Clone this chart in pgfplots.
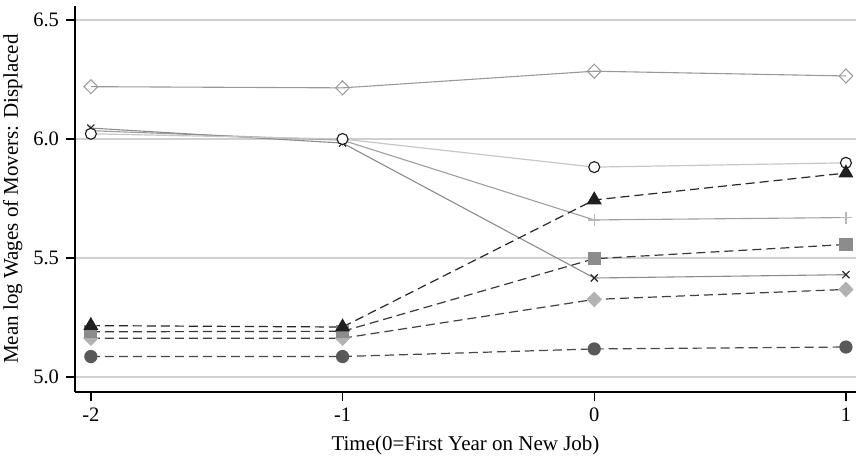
\documentclass[border=0pt]{standalone}
\usepackage{fontspec}
\setmainfont{Liberation Serif}
\usepackage{pgfplots}
\pgfplotsset{compat=1.18}
\definecolor{gridgray}{HTML}{D0D0D0}
\begin{document}
\fontsize{20.5}{24}\selectfont
\begin{tikzpicture}
\begin{axis}[
  scale only axis, width=781pt, height=386pt,
  xmin=-2.063, xmax=1.04, ymin=4.937, ymax=6.559,
  axis x line*=bottom, axis y line*=left,
  axis line style={line width=1.6pt, black, -},
  xtick={-2,-1,0,1}, ytick={5,5.5,6,6.5},
  yticklabels={5.0,5.5,6.0,6.5},
  xticklabels={-2,-1,0,1},
  tick align=outside, major tick length=9pt,
  tick style={line width=1.4pt, black},
  xmajorgrids=false, ymajorgrids=true,
  grid style={draw=gridgray, line width=1.3pt},
  /pgf/number format/assume math mode=true,
  ticklabel style={font=\fontsize{20.5}{24}\selectfont},
  label style={font=\fontsize{21}{24}\selectfont},
  xlabel={Time(0=First Year on New Job)},
  ylabel={Mean log Wages of Movers: Displaced},
  xlabel style={yshift=0pt},
  ylabel style={yshift=-3pt},
  clip=false,
]
% open diamond
\addplot[color=black!40, line width=1.1pt, mark=diamond, mark size=7pt, mark options={solid, fill=white, line width=1pt, draw=black!40, xscale=1.3}]
  coordinates {(-2,6.22) (-1,6.215) (0,6.285) (1,6.265)};
% plus
\addplot[color=black!38, line width=1.1pt, mark=+, mark size=6pt, mark options={solid, draw=black!28, line width=1.2pt}]
  coordinates {(-2,6.035) (-1,5.995) (0,5.66) (1,5.67)};
% cross
\addplot[color=black!45, line width=1.1pt, mark=x, mark size=5pt, mark options={solid, draw=black!85, line width=1.1pt}]
  coordinates {(-2,6.046) (-1,5.983) (0,5.416) (1,5.43)};
% open circle
\addplot[color=black!22, line width=1.2pt, mark=*, mark size=5.5pt, mark options={solid, fill=white, draw=black!90, line width=1.1pt}]
  coordinates {(-2,6.022) (-1,6.0) (0,5.882) (1,5.90)};
% filled circle
\addplot[color=black!72, line width=1.2pt, dash pattern=on 9pt off 5pt, mark=*, mark size=6pt, mark options={solid, fill=black!65, draw=black!65}]
  coordinates {(-2,5.086) (-1,5.086) (0,5.118) (1,5.126)};
% filled diamond
\addplot[color=black!75, line width=1.2pt, dash pattern=on 9pt off 5pt, mark=diamond*, mark size=7pt, mark options={solid, fill=black!30, draw=black!30, xscale=1.3}]
  coordinates {(-2,5.163) (-1,5.163) (0,5.326) (1,5.368)};
% filled square
\addplot[color=black!78, line width=1.2pt, dash pattern=on 9pt off 5pt, mark=square*, mark size=6pt, mark options={solid, fill=black!45, draw=black!45}]
  coordinates {(-2,5.19) (-1,5.192) (0,5.497) (1,5.557)};
% filled triangle
\addplot[color=black!85, line width=1.2pt, dash pattern=on 9pt off 5pt, mark=triangle*, mark size=7.5pt, mark options={solid, fill=black!88, draw=black!88}]
  coordinates {(-2,5.216) (-1,5.21) (0,5.744) (1,5.857)};
\end{axis}
\pgfresetboundingbox
\path (-75pt,-63pt) rectangle (781pt,392pt);
\end{tikzpicture}
\end{document}
